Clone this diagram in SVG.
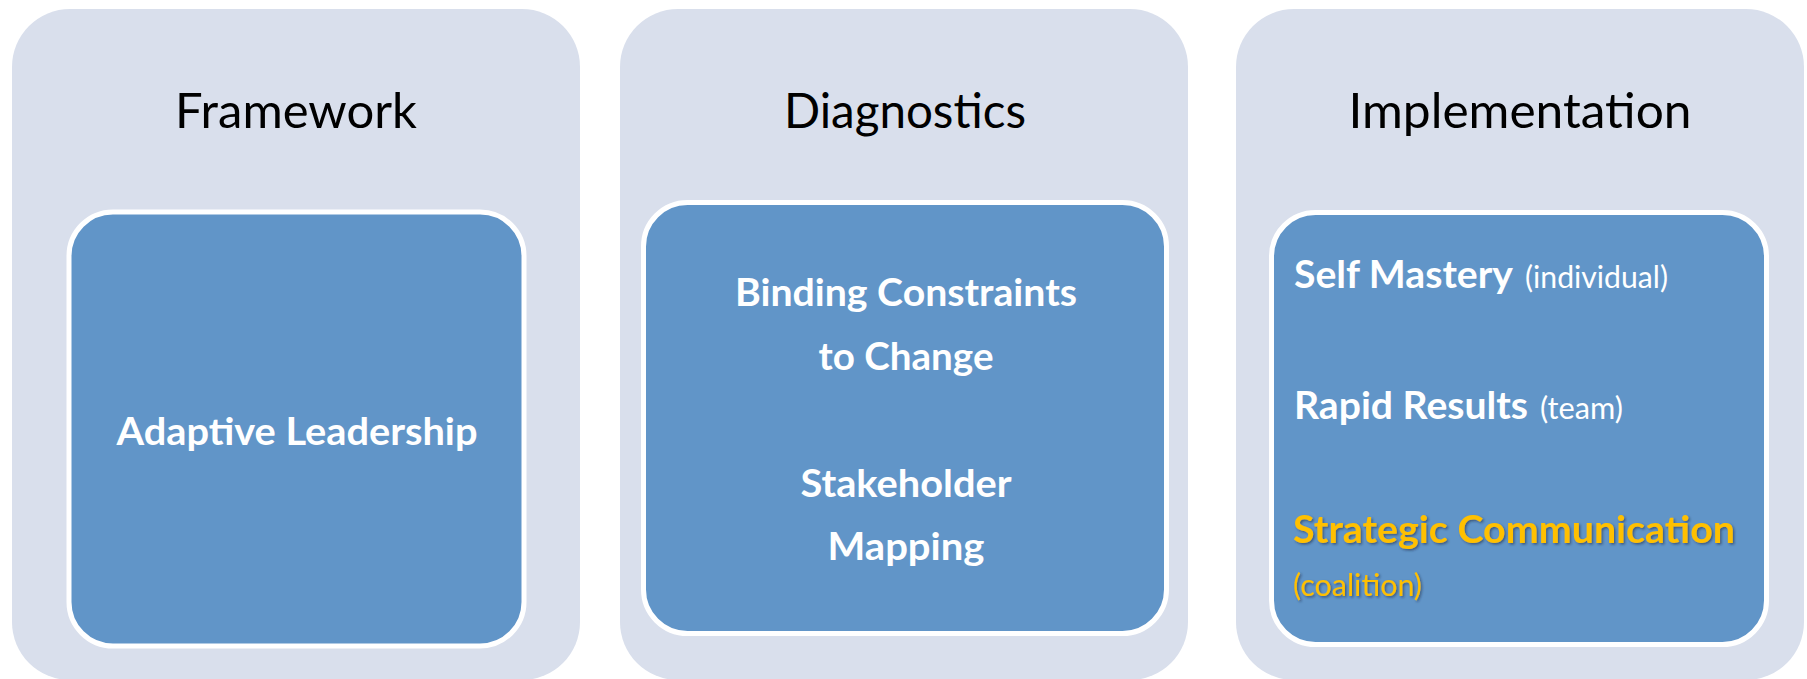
<svg xmlns="http://www.w3.org/2000/svg" width="1807" height="679" viewBox="0 0 1807 679">
<defs>
<style>
.panel{fill:#D9DFEC;}
.box{fill:#6195C8;stroke:#FFFFFF;stroke-width:5;}
.title{font-family:Lato,"Liberation Sans",sans-serif;font-size:48px;fill:#000000;text-anchor:middle;}
.b{font-family:Lato,"Liberation Sans",sans-serif;font-weight:bold;font-size:38px;fill:#FFFFFF;}
.s{font-family:Lato,"Liberation Sans",sans-serif;font-size:31px;fill:#FFFFFF;}
.c{text-anchor:middle;}
.y{fill:#FFC000;filter:url(#sh);}
</style>
<filter id="sh" x="-5%" y="-20%" width="110%" height="150%">
<feDropShadow dx="1.5" dy="1.5" stdDeviation="1" flood-color="#1a2a40" flood-opacity="0.55"/>
</filter>
</defs>
<rect width="1807" height="679" fill="#FFFFFF"/>
<g id="framework">
<rect class="panel" x="12" y="9" width="568" height="671" rx="58" ry="58"/>
<text class="title" x="296" y="128" textLength="242" lengthAdjust="spacingAndGlyphs">Framework</text>
<g id="adaptive-leadership">
<rect class="box" x="69" y="212" width="455" height="434" rx="44" ry="44"/>
<text class="b c" x="297" y="445" textLength="361" lengthAdjust="spacingAndGlyphs">Adaptive Leadership</text>
</g>
</g>
<g id="diagnostics">
<rect class="panel" x="620" y="9" width="568" height="671" rx="58" ry="58"/>
<text class="title" x="905" y="128" textLength="242" lengthAdjust="spacingAndGlyphs">Diagnostics</text>
<g id="diagnostics-box">
<rect class="box" x="643.5" y="202.5" width="523" height="431" rx="44" ry="44"/>
<text class="b c" x="906" y="306" textLength="342" lengthAdjust="spacingAndGlyphs">Binding Constraints</text>
<text class="b c" x="906" y="370" textLength="175" lengthAdjust="spacingAndGlyphs">to Change</text>
<text class="b c" x="906" y="497" textLength="211" lengthAdjust="spacingAndGlyphs">Stakeholder</text>
<text class="b c" x="906" y="560" textLength="157" lengthAdjust="spacingAndGlyphs">Mapping</text>
</g>
</g>
<g id="implementation">
<rect class="panel" x="1236" y="9" width="568" height="671" rx="58" ry="58"/>
<text class="title" x="1520" y="128" textLength="343" lengthAdjust="spacingAndGlyphs">Implementation</text>
<g id="implementation-box">
<rect class="box" x="1271.5" y="212.5" width="495" height="432" rx="44" ry="44"/>
<text class="b" x="1294" y="288" textLength="219" lengthAdjust="spacingAndGlyphs">Self Mastery</text>
<text class="s" x="1525" y="288" textLength="143" lengthAdjust="spacingAndGlyphs">(individual)</text>
<text class="b" x="1294" y="419" textLength="234" lengthAdjust="spacingAndGlyphs">Rapid Results</text>
<text class="s" x="1540" y="419" textLength="83" lengthAdjust="spacingAndGlyphs">(team)</text>
<text class="b y" x="1293" y="543" textLength="442" lengthAdjust="spacingAndGlyphs">Strategic Communication</text>
<text class="s y" x="1293" y="596" textLength="129" lengthAdjust="spacingAndGlyphs">(coalition)</text>
</g>
</g>
</svg>
